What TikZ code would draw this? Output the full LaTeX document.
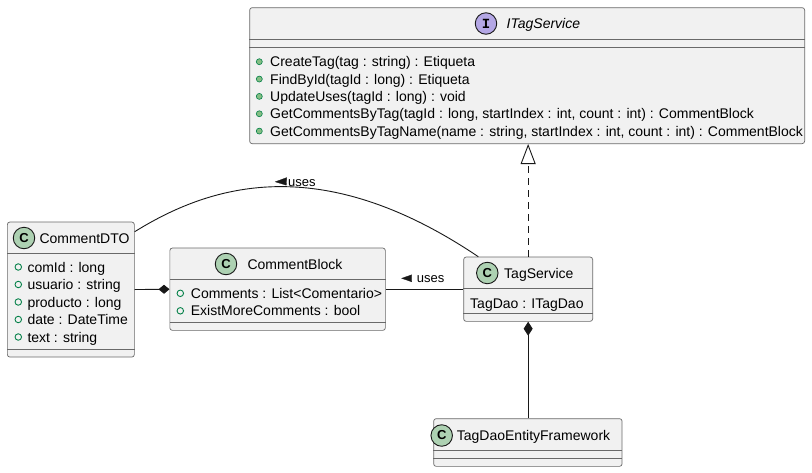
\documentclass[tikz,border=0pt]{standalone}
\usepackage{fontspec}
\setmainfont{Liberation Sans}
\newfontfamily\monofont{Liberation Mono}
\usetikzlibrary{arrows.meta}
\definecolor{bfill}{HTML}{F1F1F1}
\definecolor{bline}{HTML}{181818}
\definecolor{cgreen}{HTML}{ADD1B2}
\definecolor{ipurple}{HTML}{B4A7E5}
\definecolor{vgreen}{HTML}{038048}
\definecolor{mgreen}{HTML}{84BE84}
\begin{document}
\begin{tikzpicture}[x=1pt,y=-1pt,
  box/.style={draw=bline!65, fill=bfill, line width=0.7pt, rounded corners=2.5pt, inner sep=0, anchor=north west},
  sepline/.style={draw=bline!65, line width=0.7pt},
  cname/.style={anchor=base west, inner sep=0, font=\fontsize{14}{16}\selectfont},
  member/.style={anchor=base west, inner sep=0, font=\fontsize{14}{16}\selectfont},
  lbl/.style={anchor=base west, inner sep=0, font=\fontsize{13}{15}\selectfont},
  cicon/.style={circle, draw=bline, line width=0.9pt, fill=cgreen, minimum size=21.5pt, inner sep=0, font=\bfseries\fontsize{13}{13}\selectfont},
  iicon/.style={circle, draw=bline, line width=0.9pt, fill=ipurple, minimum size=21.5pt, inner sep=0, font=\monofont\bfseries\fontsize{14}{14}\selectfont},
  fieldicon/.style={circle, draw=vgreen, line width=0.9pt, minimum size=6.5pt, inner sep=0},
  methicon/.style={circle, draw=vgreen, line width=0.6pt, fill=mgreen, minimum size=6pt, inner sep=0},
  conn/.style={draw=bline, line width=0.9pt},
  dirtri/.style={fill=bline, draw=bline, line width=0.3pt}
]
\useasboundingbox (0,0) rectangle (812,472);

% ---------- ITagService ----------
\node[box, minimum width=555pt, minimum height=136pt] (its) at (249.3,7.3) {};
\draw[sepline] (its.west |- 0,39.3) -- (its.east |- 0,39.3);
\draw[sepline] (its.west |- 0,47.5) -- (its.east |- 0,47.5);
\node[iicon] (itsicon) at (486,23.5) {I};
\node[cname, font=\itshape\fontsize{14}{16}\selectfont] (itsname) at (506.5,28.5) {ITagService};
\foreach \i/\t in {0/{CreateTag(tag : string) : Etiqueta},
                   1/{FindById(tagId : long) : Etiqueta},
                   2/{UpdateUses(tagId : long) : void},
                   3/{GetCommentsByTag(tagId : long, startIndex : int, count : int) : CommentBlock},
                   4/{GetCommentsByTagName(name : string, startIndex : int, count : int) : CommentBlock}} {
  \node[methicon] (itsm\i) at (259.3,61.7+17.35*\i) {};
  \node[member] (itsmt\i) at (270,66.7+17.35*\i) {\t};
}

% ---------- CommentDTO ----------
\node[box, minimum width=127pt, minimum height=135pt] (dto) at (7,221.7) {};
\draw[sepline] (dto.west |- 0,253) -- (dto.east |- 0,253);
\draw[sepline] (dto.west |- 0,349) -- (dto.east |- 0,349);
\node[cicon] (dtoicon) at (24,238) {C};
\node[cname] (dtoname) at (39.3,243) {CommentDTO};
\foreach \i/\t in {0/{comId : long}, 1/{usuario : string}, 2/{producto : long}, 3/{date : DateTime}, 4/{text : string}} {
  \node[fieldicon] (dtof\i) at (18.3,267+17.5*\i) {};
  \node[member] (dtoft\i) at (27.3,272+17.5*\i) {\t};
}

% ---------- CommentBlock ----------
\node[box, minimum width=215.5pt, minimum height=82.3pt] (cb) at (169.5,247.7) {};
\draw[sepline] (cb.west |- 0,279) -- (cb.east |- 0,279);
\draw[sepline] (cb.west |- 0,322) -- (cb.east |- 0,322);
\node[cicon] (cbicon) at (226,264) {C};
\node[cname] (cbname) at (247.3,269) {CommentBlock};
\node[fieldicon] (cbf0) at (180.3,293.3) {};
\node[member] (cbft0) at (190.7,298.3) {Comments : List<Comentario>};
\node[fieldicon] (cbf1) at (180.3,310.8) {};
\node[member] (cbft1) at (190.7,315.8) {ExistMoreComments : bool};

% ---------- TagService ----------
\node[box, minimum width=129pt, minimum height=64.3pt] (ts) at (463.3,256.7) {};
\draw[sepline] (ts.west |- 0,288.3) -- (ts.east |- 0,288.3);
\draw[sepline] (ts.west |- 0,313.3) -- (ts.east |- 0,313.3);
\node[cicon] (tsicon) at (487.3,273) {C};
\node[cname] (tsname) at (504,278) {TagService};
\node[member] (tsft0) at (470,308.3) {TagDao : ITagDao};

% ---------- TagDaoEntityFramework ----------
\node[box, minimum width=188.4pt, minimum height=47.7pt] (tdao) at (433.3,418.3) {};
\draw[sepline] (tdao.west |- 0,450) -- (tdao.east |- 0,450);
\draw[sepline] (tdao.west |- 0,458.3) -- (tdao.east |- 0,458.3);
\node[cicon] (tdaoicon) at (441.7,435.5) {C};
\node[cname] (tdaoname) at (456.7,440.5) {TagDaoEntityFramework};

% ---------- Connectors ----------
% realization TagService -> ITagService
\draw[conn, dash pattern=on 7pt off 5pt, -{Triangle[open, length=20pt, width=15pt, line width=0.9pt]}]
  (ts.north) -- (ts.north |- its.south);
% composition TagService <>-- TagDaoEntityFramework
\draw[conn, -{Diamond[length=14pt, width=9pt]}] (tdao.north -| ts.south) -- (ts.south);
% composition CommentBlock <>-- CommentDTO
\draw[conn, -{Diamond[length=11pt, width=9pt]}] (dto.east) -- (cb.west);
% association CommentBlock -- TagService
\draw[conn] (cb.east) -- (ts.west);
% curved association CommentDTO -- TagService
\draw[conn] ([yshift=-10pt]dto.north east) .. controls (210,185) and (320,150) .. ([xshift=15pt]ts.north west);

% ---------- Labels ----------
\node[lbl] (lbl1) at (288,186.5) {uses};
\path[dirtri] (275.3,181.8) -- (286.7,177.6) -- (286.3,185.2) -- cycle;
\node[lbl] (lbl2) at (416.7,282.3) {uses};
\path[dirtri] (401.7,278.3) -- (411.7,274.8) -- (411.7,281.8) -- cycle;
\end{tikzpicture}
\end{document}
